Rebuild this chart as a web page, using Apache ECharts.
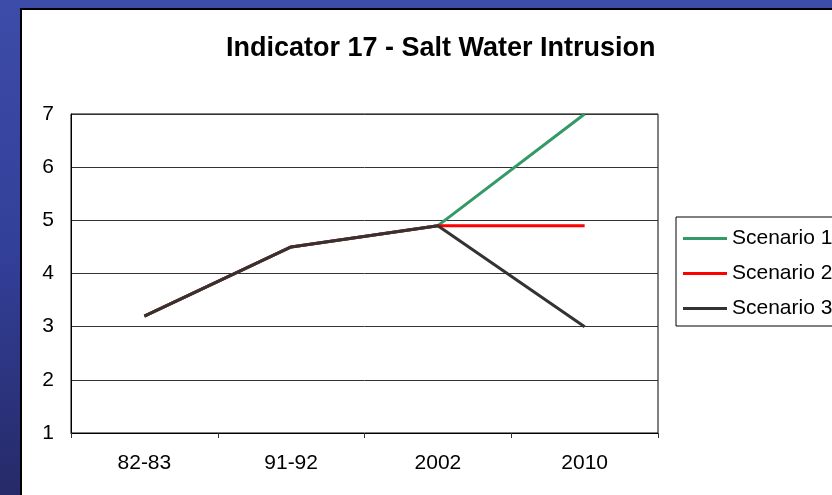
<!DOCTYPE html>
<html>
<head>
<meta charset="utf-8">
<script src="https://cdn.jsdelivr.net/npm/echarts@6/dist/echarts.min.js"></script>
<style>
    body { margin: 0; width: 832px; height: 495px; overflow: hidden;
        background: linear-gradient(180deg, #3d4ca8 0%, #33409a 50%, #262a68 100%); }
    #panel { position: absolute; left: 20px; top: 8px; width: 900px; height: 600px;
        background: #fff; border: 2px solid #000; }
    #chart { position: absolute; left: 0; top: 0; width: 832px; height: 495px; }
</style>
</head>
<body>
<div id="panel"></div>
<div id="chart"></div>
<script>
var categories = ['82-83', '91-92', '2002', '2010'];
var scenario1 = [3.2, 4.5, 4.9, 7];
var scenario2 = [3.2, 4.5, 4.9, 4.9];
var scenario3 = [3.2, 4.5, 4.9, 3];
var yTicks = [1, 2, 3, 4, 5, 6, 7];

var myChart = echarts.init(document.getElementById('chart'));

function lineSeries(name, data, color) {
    return {
        name: name,
        type: 'line',
        data: data,
        symbol: 'none',
        color: color,
        lineStyle: { width: 3, color: color }
    };
}

option = {
    animation: false,
    textStyle: { fontFamily: 'Liberation Sans, Arial, sans-serif' },
    title: {
        text: 'Indicator 17 - Salt Water Intrusion',
        left: 226,
        top: 35,
        padding: 0,
        textStyle: { fontSize: 27, fontWeight: 'bold', color: '#000', fontFamily: 'Liberation Sans, Arial, sans-serif' }
    },
    grid: {
        left: 71, top: 114, right: 174, bottom: 62,
        show: true, borderColor: '#000', borderWidth: 1, backgroundColor: 'transparent'
    },
    legend: {
        orient: 'vertical',
        left: 676,
        top: 217,
        padding: [11, 100, 7, 7],
        itemGap: 14,
        itemWidth: 44,
        itemHeight: 3,
        icon: 'rect',
        borderColor: '#000',
        borderWidth: 1,
        backgroundColor: '#fff',
        textStyle: { fontSize: 21, color: '#000' },
        data: ['Scenario 1', 'Scenario 2', 'Scenario 3']
    },
    xAxis: {
        type: 'category',
        data: categories,
        boundaryGap: true,
        axisLine: { lineStyle: { color: '#000', width: 1 } },
        axisTick: { show: true, length: 5, lineStyle: { color: '#333' } },
        axisLabel: { fontSize: 21, color: '#000', margin: 20 }
    },
    yAxis: {
        type: 'value',
        min: yTicks[0],
        max: yTicks[yTicks.length - 1],
        interval: 1,
        axisLine: { show: true, lineStyle: { color: '#000', width: 1 } },
        axisTick: { show: false },
        axisLabel: { fontSize: 21, color: '#000', margin: 17 },
        splitLine: { lineStyle: { color: '#333', width: 1 } }
    },
    series: [
        lineSeries('Scenario 1', scenario1, '#339966'),
        lineSeries('Scenario 2', scenario2, '#ff0000'),
        lineSeries('Scenario 3', scenario3, '#333333')
    ]
};
myChart.setOption(option);
</script>
</body>
</html>
